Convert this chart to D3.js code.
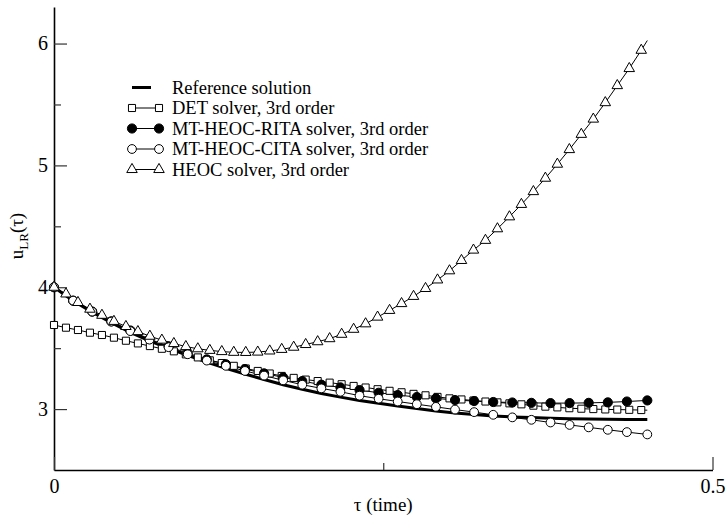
<!DOCTYPE html>
<html>
<head>
<meta charset="utf-8">
<script src="https://cdn.jsdelivr.net/npm/d3@7/dist/d3.min.js"></script>
<style>
  html, body { margin: 0; padding: 0; background: #fff; }
  svg, svg text { font-family: "Liberation Serif", "Times New Roman", serif !important; }
</style>
</head>
<body>
<div id="chart"></div>
<script>
// =========================
// DATA
// =========================
// time grid for the two circle solvers + reference
const tauA = [0, 0.0145, 0.029, 0.0435, 0.058, 0.0725, 0.087, 0.1015, 0.116, 0.1305,
  0.145, 0.1595, 0.174, 0.1885, 0.203, 0.2175, 0.232, 0.2465, 0.261, 0.2755,
  0.29, 0.3045, 0.319, 0.3335, 0.348, 0.3625, 0.377, 0.3915, 0.406, 0.4205,
  0.435, 0.4505];

// time grid for DET and HEOC (last point has no marker)
const tauB = [0, 0.0091, 0.0182, 0.0273, 0.0364, 0.0455, 0.0546, 0.0637, 0.0728, 0.0819,
  0.091, 0.1001, 0.1092, 0.1183, 0.1274, 0.1365, 0.1456, 0.1547, 0.1638, 0.1729,
  0.182, 0.1911, 0.2002, 0.2093, 0.2184, 0.2275, 0.2366, 0.2457, 0.2548, 0.2639,
  0.273, 0.2821, 0.2912, 0.3003, 0.3094, 0.3185, 0.3276, 0.3367, 0.3458, 0.3549,
  0.364, 0.3731, 0.3822, 0.3913, 0.4004, 0.4095, 0.4186, 0.4277, 0.4368, 0.4459,
  0.4505];

const refValues = [4.00, 3.89, 3.795, 3.71, 3.63, 3.56, 3.498, 3.44, 3.385, 3.335,
  3.288, 3.243, 3.20, 3.163, 3.128, 3.098, 3.071, 3.047, 3.025, 3.004,
  2.985, 2.968, 2.955, 2.944, 2.936, 2.93, 2.925, 2.921, 2.918, 2.916,
  2.915, 2.915];

const ritaValues = [4.00, 3.89, 3.80, 3.72, 3.645, 3.575, 3.515, 3.458, 3.408, 3.368,
  3.328, 3.293, 3.26, 3.23, 3.20, 3.178, 3.156, 3.134, 3.115, 3.099,
  3.088, 3.074, 3.066, 3.058, 3.054, 3.051, 3.049, 3.049, 3.051, 3.055,
  3.062, 3.071];

const citaValues = [4.00, 3.89, 3.80, 3.718, 3.64, 3.57, 3.508, 3.45, 3.398, 3.355,
  3.313, 3.275, 3.236, 3.20, 3.17, 3.142, 3.11, 3.085, 3.062, 3.04,
  3.018, 2.996, 2.975, 2.953, 2.932, 2.912, 2.89, 2.87, 2.85, 2.83,
  2.811, 2.792];

const detValues = [3.69, 3.668, 3.649, 3.627, 3.608, 3.586, 3.561, 3.539, 3.517, 3.495,
  3.474, 3.449, 3.424, 3.40, 3.378, 3.355, 3.333, 3.313, 3.292, 3.272,
  3.256, 3.242, 3.23, 3.217, 3.204, 3.19, 3.177, 3.163, 3.15, 3.138,
  3.125, 3.113, 3.10, 3.088, 3.079, 3.07, 3.062, 3.055, 3.047, 3.039,
  3.028, 3.02, 3.014, 3.007, 3.003, 3.0, 2.997, 2.996, 2.994, 2.992,
  2.991];

const heocValues = [4.00, 3.945, 3.875, 3.82, 3.77, 3.72, 3.678, 3.636, 3.598, 3.566,
  3.538, 3.513, 3.495, 3.482, 3.472, 3.466, 3.465, 3.468, 3.477, 3.49,
  3.508, 3.53, 3.553, 3.578, 3.614, 3.655, 3.70, 3.755, 3.81, 3.866,
  3.925, 3.99, 4.06, 4.135, 4.22, 4.305, 4.385, 4.48, 4.578, 4.68,
  4.785, 4.895, 5.01, 5.13, 5.255, 5.38, 5.515, 5.655, 5.795, 5.945,
  6.025];

const legendLabels = [
  "Reference solution",
  "DET solver, 3rd order",
  "MT-HEOC-RITA solver, 3rd order",
  "MT-HEOC-CITA solver, 3rd order",
  "HEOC solver, 3rd order"
];

const xMajor = [0, 0.5];
const xMinor = [0.25];
const yMajor = [3, 4, 5, 6];
const yMinor = [3.5, 4.5, 5.5];

// =========================
// SVG SETUP
// =========================
const W = 728, H = 520;
const svg = d3.select("#chart").append("svg")
  .attr("width", W)
  .attr("height", H);

const x = d3.scaleLinear().domain([0, 0.5]).range([54, 712.5]);
const y = d3.scaleLinear().domain([2.5, 6.3]).range([470, 7]);

// =========================
// AXES
// =========================
svg.append("g")
  .attr("transform", `translate(${x(0)},0)`)
  .call(d3.axisLeft(y).tickValues(yMajor).tickSizeInner(-13).tickSizeOuter(0)
    .tickPadding(6).tickFormat(d3.format("d")));

svg.append("g")
  .attr("transform", `translate(${x(0)},0)`)
  .call(d3.axisLeft(y).tickValues(yMinor).tickSizeInner(-7).tickSizeOuter(0).tickFormat(""))
  .select(".domain").remove();

svg.append("g")
  .attr("transform", `translate(0,${y(2.5)})`)
  .call(d3.axisBottom(x).tickValues(xMajor).tickSizeInner(-13).tickSizeOuter(0)
    .tickPadding(9).tickFormat(d3.format("")));

svg.append("g")
  .attr("transform", `translate(0,${y(2.5)})`)
  .call(d3.axisBottom(x).tickValues(xMinor).tickSizeInner(-7).tickSizeOuter(0).tickFormat(""))
  .select(".domain").remove();

svg.selectAll(".domain").attr("stroke", "#000").attr("stroke-width", 1.6);
svg.selectAll(".tick line").attr("stroke", "#333").attr("stroke-width", 1.2);
svg.selectAll(".tick text")
  .attr("fill", "#000")
  .attr("font-family", null)
  .style("font-size", "20px");

// axis titles
svg.append("text")
  .attr("x", x(0.25))
  .attr("y", 511)
  .attr("text-anchor", "middle")
  .style("font-size", "19px")
  .text("τ (time)");

const yTitle = svg.append("text")
  .attr("transform", `translate(23,236) rotate(-90)`)
  .attr("text-anchor", "middle")
  .style("font-size", "19px");
yTitle.append("tspan").text("u");
yTitle.append("tspan").attr("dy", 5).style("font-size", "13px").text("LR");
yTitle.append("tspan").attr("dy", -5).text("(τ)");

// =========================
// LINES
// =========================
const plot = svg.append("g");

function series(tau, vals) {
  return tau.map((t, i) => ({ t: t, v: vals[i] }));
}

const line = d3.line().x(d => x(d.t)).y(d => y(d.v));

const refData = series(tauA, refValues);
const detData = series(tauB, detValues);
const ritaData = series(tauA, ritaValues);
const citaData = series(tauA, citaValues);
const heocData = series(tauB, heocValues);

plot.append("path").datum(refData)
  .attr("fill", "none").attr("stroke", "#000").attr("stroke-width", 3)
  .attr("d", line);

[detData, ritaData, citaData, heocData].forEach(s => {
  plot.append("path").datum(s)
    .attr("fill", "none").attr("stroke", "#000").attr("stroke-width", 1)
    .attr("d", line);
});

// =========================
// MARKERS
// =========================
const sqr = d3.symbol().type(d3.symbolSquare).size(50);
const tri = d3.symbol().type(d3.symbolTriangle).size(48);

function drawSquares(g, pts) {
  g.selectAll(null).data(pts).enter().append("path")
    .attr("transform", d => `translate(${x(d.t)},${y(d.v)})`)
    .attr("d", sqr)
    .attr("fill", "#fff").attr("stroke", "#000").attr("stroke-width", 1);
}
function drawTriangles(g, pts) {
  g.selectAll(null).data(pts).enter().append("path")
    .attr("transform", d => `translate(${x(d.t)},${y(d.v)})`)
    .attr("d", tri)
    .attr("fill", "#fff").attr("stroke", "#000").attr("stroke-width", 1);
}
function drawCircles(g, pts, filled) {
  g.selectAll(null).data(pts).enter().append("circle")
    .attr("cx", d => x(d.t)).attr("cy", d => y(d.v))
    .attr("r", filled ? 4.6 : 4.4)
    .attr("fill", filled ? "#000" : "#fff")
    .attr("stroke", "#000").attr("stroke-width", 1);
}

drawSquares(plot.append("g"), detData.slice(0, -1));
drawCircles(plot.append("g"), ritaData, true);
drawCircles(plot.append("g"), citaData, false);
drawTriangles(plot.append("g"), heocData.slice(0, -1));

// =========================
// LEGEND
// =========================
const legend = svg.append("g");
const rowY = i => 87.5 + i * 20.5;
const lx0 = 132, lx1 = 159, tx = 172;

legend.append("line")
  .attr("x1", lx0).attr("x2", lx1 - 8).attr("y1", rowY(0)).attr("y2", rowY(0))
  .attr("stroke", "#000").attr("stroke-width", 3);

for (let i = 1; i < 5; i++) {
  legend.append("line")
    .attr("x1", lx0).attr("x2", lx1).attr("y1", rowY(i)).attr("y2", rowY(i))
    .attr("stroke", "#000").attr("stroke-width", 1);
}
const pair = i => [lx0, lx1].map(px => ({ t: x.invert(px), v: y.invert(rowY(i)) }));
drawSquares(legend.append("g"), pair(1));
drawCircles(legend.append("g"), pair(2), true);
drawCircles(legend.append("g"), pair(3), false);
drawTriangles(legend.append("g"), pair(4));

legend.selectAll(null).data(legendLabels).enter().append("text")
  .attr("x", tx)
  .attr("y", (d, i) => rowY(i) + 6)
  .style("font-size", "18.5px")
  .text(d => d);
</script>
</body>
</html>
